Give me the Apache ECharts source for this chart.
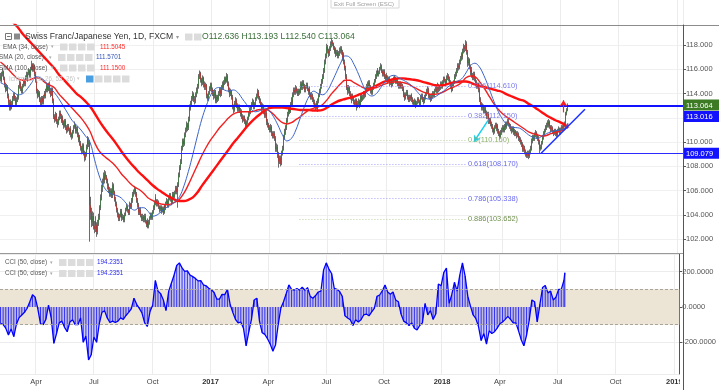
<!DOCTYPE html>
<html><head><meta charset="utf-8">
<script src="https://cdn.jsdelivr.net/npm/echarts@6/dist/echarts.min.js"></script>
<style>html,body{margin:0;padding:0;background:#fff}#c{width:719px;height:390px}</style>
</head><body><div id="c"></div><script>
// ---------- categories ----------
const firstDate = '2016-02-05';     // first trading day on the axis
const categoryCount = 763;          // weekdays shown on the time axis (incl. empty future)
const monthNames = ['Jan','Feb','Mar','Apr','May','Jun','Jul','Aug','Sep','Oct','Nov','Dec'];

// ---------- daily price data (CHF/JPY, FXCM, 1D) ----------
const firstOpen = 115.20;
const closes = [
115.40,115.10,115.62,115.80,115.25,114.70,114.35,114.55,113.80,113.25,
112.90,113.30,112.85,113.15,113.55,113.90,113.60,113.20,113.45,113.70,
114.10,114.55,114.85,114.40,114.20,114.65,115.05,114.80,115.30,115.55,
115.20,115.65,115.90,115.50,116.05,116.40,115.95,116.30,115.60,115.15,
114.70,114.20,113.85,114.10,113.50,113.20,113.65,113.30,113.75,114.00,
113.80,114.25,114.60,114.30,114.75,114.20,113.90,114.35,113.40,112.60,
112.10,111.85,112.30,111.70,111.50,111.95,112.40,112.15,111.80,112.05,
111.60,111.35,111.75,111.20,110.95,111.30,111.05,110.80,111.10,110.65,
110.45,110.85,111.25,111.40,110.90,111.10,110.60,110.20,110.45,109.90,
109.55,109.30,109.75,109.10,108.70,108.95,109.60,110.20,109.85,110.05,
104.80,104.20,103.40,103.90,103.10,102.85,103.50,103.20,102.60,103.30,
103.80,104.60,105.40,106.20,106.70,107.20,106.90,107.40,107.15,106.85,
106.40,106.10,105.70,106.00,105.60,106.25,106.45,105.90,105.30,104.90,
104.40,104.05,103.70,103.95,104.30,104.10,103.75,103.85,103.60,104.00,
104.45,104.70,104.40,104.15,104.55,104.90,104.65,105.20,105.70,105.90,
106.10,105.75,105.20,104.85,104.50,104.20,104.40,103.95,103.70,103.85,
103.60,103.90,103.45,103.20,103.50,103.05,103.40,103.75,104.00,103.80,
104.25,104.60,104.95,105.45,105.20,104.90,105.10,104.70,104.45,104.65,
104.30,104.55,104.20,104.75,104.60,104.95,105.15,104.80,105.35,105.60,
105.30,105.05,105.40,105.70,105.50,105.85,106.20,105.90,106.50,107.30,
107.90,108.40,108.95,109.50,110.10,109.85,110.60,111.00,111.45,111.20,
111.90,112.50,112.85,113.20,113.60,113.95,113.50,113.40,113.90,114.25,
114.60,114.95,115.40,115.70,115.15,114.90,115.30,114.80,114.55,114.70,
114.25,113.85,113.60,114.05,114.40,114.75,114.35,114.00,113.80,114.15,
113.65,113.40,113.75,113.55,114.00,114.30,113.95,114.50,114.80,114.60,
114.90,115.25,115.00,115.45,114.85,114.30,113.95,114.20,113.70,113.40,
112.90,112.65,113.20,113.45,113.00,112.70,112.95,112.60,112.35,112.55,
112.10,111.85,112.05,111.70,111.40,111.65,111.95,112.30,112.60,112.45,
112.85,113.10,113.35,112.90,113.15,113.55,113.80,114.15,113.90,113.70,
113.40,113.10,112.75,112.95,112.50,112.20,112.40,111.90,111.70,111.45,
111.20,111.00,111.25,110.75,110.50,110.70,110.30,109.90,109.45,109.60,
109.00,108.40,108.70,108.20,109.10,109.45,109.90,110.40,110.85,111.20,
111.80,112.25,112.70,112.50,113.10,113.45,113.30,113.90,114.30,114.10,
114.45,114.20,113.95,114.25,114.10,114.55,114.80,114.50,114.90,114.65,
114.30,114.55,114.70,114.40,114.15,114.35,113.95,113.70,113.85,113.50,
113.30,113.05,112.85,113.20,112.75,113.40,113.85,114.20,114.60,115.00,
115.40,115.85,116.60,117.10,117.40,117.85,117.55,117.30,117.70,118.05,
118.25,118.10,117.80,117.50,117.65,117.25,117.40,117.10,117.30,117.55,
117.70,117.45,116.90,117.20,116.60,116.10,115.40,114.50,114.20,114.45,
114.00,113.70,113.45,113.85,113.60,113.30,113.10,113.45,112.95,113.15,
113.35,113.05,113.55,113.80,113.50,113.70,114.05,113.85,114.30,114.55,
114.85,114.60,114.90,114.55,114.25,114.10,114.45,114.70,115.05,115.35,
115.70,115.90,115.55,115.75,116.05,116.25,115.85,115.60,115.80,115.40,
115.25,115.50,115.30,115.05,115.20,114.85,115.00,114.75,114.95,115.15,
115.35,115.20,114.95,115.10,114.80,114.60,114.85,114.55,114.70,114.40,
114.20,113.90,113.65,113.95,114.10,113.70,113.50,113.75,113.60,113.85,
113.55,113.30,113.15,113.40,113.05,113.25,113.55,113.35,113.10,113.30,
113.65,113.80,113.50,113.35,113.70,113.95,114.15,114.35,114.05,113.85,
113.70,113.55,113.80,114.05,113.90,114.25,114.40,114.20,114.55,114.70,
114.35,114.50,114.80,114.60,114.95,115.25,115.05,114.75,114.90,115.30,
115.45,115.20,114.95,114.60,114.35,114.70,114.95,115.15,115.40,115.60,
115.90,116.30,116.15,116.60,116.90,117.25,117.05,117.50,117.85,117.70,
118.10,117.40,116.50,116.80,116.20,115.75,115.95,115.50,115.30,115.60,
115.20,114.90,114.60,114.75,114.30,113.80,113.50,113.10,112.85,112.95,
112.60,112.75,112.40,112.15,112.30,111.95,111.70,111.85,111.50,111.30,
111.05,110.85,111.25,111.45,111.15,111.35,110.95,110.70,110.45,110.80,
111.00,111.20,110.95,111.30,111.45,111.25,111.55,111.70,111.50,111.35,
111.10,110.95,111.15,110.85,110.70,110.90,110.75,110.55,110.65,110.35,
110.20,110.00,109.85,109.60,109.40,109.55,109.25,109.05,108.90,109.10,
108.85,109.15,109.45,109.80,110.10,110.45,110.30,110.65,110.80,110.55,
110.35,110.05,109.70,109.45,109.60,109.95,110.40,110.70,110.95,111.20,
111.35,111.60,111.45,111.70,111.30,111.05,111.20,110.90,110.75,110.95,
110.70,110.85,110.60,110.95,111.10,110.80,111.05,111.25,111.15,111.40,
111.55,111.90,112.35,112.636,113.064];
const highs = [
115.7,115.6,115.8,116.1,115.9,115.4,114.9,114.8,114.7,114.0,
113.5,113.5,113.5,113.4,113.8,114.1,114.1,113.8,113.7,113.9,
114.3,114.7,115.1,115.0,114.6,114.8,115.3,115.2,115.5,115.8,
115.7,115.8,116.1,116.0,116.2,116.7,116.5,116.5,116.4,115.8,
115.3,114.9,114.4,114.3,114.2,113.7,113.8,113.8,113.9,114.2,
114.2,114.4,114.8,114.8,114.9,115.0,114.4,114.5,114.5,113.6,
112.8,112.3,112.5,112.4,111.9,112.1,112.6,112.6,112.3,112.3,
112.2,111.8,111.9,111.9,111.4,111.5,111.5,111.2,111.3,111.3,
110.8,111.0,111.4,111.7,111.5,111.3,111.3,110.8,110.7,110.6,
110.1,109.7,109.9,109.9,109.3,109.2,109.8,110.5,110.4,110.4,
110.2,105.5,104.6,104.3,104.2,103.5,103.8,103.9,103.4,103.6,
104.1,104.8,105.7,106.5,107.0,107.5,107.4,107.7,107.6,107.3,
107.0,106.6,106.3,106.2,106.2,106.4,106.7,106.6,106.0,105.5,
105.1,104.6,104.2,104.1,104.5,104.5,104.2,104.1,104.0,104.2,
104.6,104.9,104.8,104.5,104.7,105.1,105.0,105.4,105.9,106.1,
106.4,106.3,105.9,105.4,105.0,104.7,104.6,104.6,104.1,104.1,
104.0,104.1,104.1,103.6,103.7,103.7,103.6,103.9,104.2,104.2,
104.4,104.8,105.2,105.7,105.7,105.3,105.3,105.2,104.8,104.8,
104.8,104.7,104.7,104.9,104.9,105.1,105.4,105.3,105.5,105.8,
105.8,105.5,105.6,105.9,105.9,106.0,106.4,106.4,106.7,107.5,
108.1,108.6,109.2,109.7,110.3,110.3,110.8,111.2,111.7,111.6,
112.1,112.7,113.1,113.4,113.8,114.2,114.1,113.8,114.1,114.5,
114.8,115.2,115.6,115.9,115.8,115.3,115.5,115.4,115.0,114.9,
114.8,114.4,114.0,114.2,114.6,114.9,114.9,114.5,114.2,114.3,
114.3,113.8,113.9,113.9,114.2,114.5,114.5,114.7,115.0,115.0,
115.1,115.4,115.4,115.7,115.6,115.0,114.5,114.4,114.3,113.9,
113.6,113.1,113.4,113.7,113.6,113.2,113.1,113.1,112.8,112.8,
112.7,112.3,112.2,112.2,111.9,111.8,112.1,112.5,112.8,112.8,
113.0,113.3,113.6,113.5,113.3,113.7,114.0,114.4,114.3,114.1,
113.8,113.6,113.3,113.2,113.1,112.6,112.6,112.6,112.1,111.9,
111.6,111.4,111.5,111.4,110.9,110.9,110.9,110.5,110.0,109.9,
109.8,109.2,108.9,108.9,109.3,109.7,110.1,110.6,111.1,111.4,
112.0,112.5,112.9,112.9,113.3,113.7,113.7,114.1,114.5,114.5,
114.7,114.6,114.4,114.4,114.4,114.8,115.0,115.0,115.1,115.1,
114.8,114.7,114.9,114.9,114.5,114.6,114.5,114.1,114.1,114.0,
113.7,113.5,113.2,113.4,113.3,113.6,114.0,114.4,114.8,115.2,
115.6,116.1,116.8,117.3,117.6,118.1,118.0,117.7,117.9,118.3,
118.5,118.4,118.2,117.9,117.9,117.8,117.6,117.6,117.5,117.8,
117.9,117.9,117.6,117.4,117.3,116.8,116.3,115.6,114.7,114.7,
114.6,114.2,113.9,114.0,114.0,113.8,113.5,113.6,113.6,113.4,
113.6,113.5,113.7,114.0,114.0,113.9,114.2,114.2,114.5,114.8,
115.0,115.0,115.1,115.1,114.7,114.4,114.6,114.9,115.2,115.6,
115.9,116.1,116.1,115.9,116.2,116.5,116.4,116.0,116.0,116.0,
115.6,115.7,115.7,115.5,115.4,115.4,115.2,115.2,115.1,115.4,
115.5,115.5,115.4,115.3,115.3,115.0,115.0,115.0,114.9,114.8,
114.6,114.4,114.1,114.1,114.3,114.3,113.9,113.9,113.9,114.0,
114.0,113.7,113.5,113.6,113.5,113.4,113.7,113.7,113.5,113.5,
113.9,114.0,114.0,113.7,113.9,114.1,114.4,114.6,114.5,114.2,
114.0,113.9,114.0,114.2,114.2,114.4,114.6,114.6,114.7,114.9,
114.8,114.7,115.0,115.0,115.1,115.4,115.4,115.2,115.1,115.5,
115.7,115.6,115.4,115.1,114.8,114.9,115.1,115.3,115.6,115.8,
116.1,116.5,116.5,116.8,117.1,117.4,117.4,117.7,118.1,118.0,
118.4,118.3,117.6,117.0,116.9,116.4,116.2,116.1,115.7,115.8,
115.8,115.4,115.1,114.9,114.9,114.5,114.0,113.7,113.3,113.2,
113.1,113.0,112.9,112.6,112.5,112.5,112.1,112.0,112.0,111.7,
111.5,111.2,111.4,111.6,111.6,111.5,111.5,111.1,110.9,111.0,
111.2,111.4,111.4,111.5,111.7,111.6,111.7,111.9,111.9,111.6,
111.5,111.3,111.3,111.3,111.0,111.1,111.0,110.9,110.9,110.8,
110.5,110.4,110.2,110.0,109.8,109.8,109.7,109.4,109.2,109.3,
109.3,109.4,109.7,110.0,110.3,110.6,110.6,110.8,111.0,110.9,
110.7,110.5,110.2,109.9,109.8,110.1,110.6,110.9,111.1,111.4,
111.6,111.8,111.8,111.9,111.8,111.4,111.4,111.3,111.0,111.1,
111.1,111.0,111.0,111.1,111.3,111.2,111.2,111.4,111.4,111.6,
111.7,112.1,112.5,112.8,113.193];
const lows = [
115.0,114.9,115.0,115.4,115.1,114.5,114.1,114.2,113.6,113.0,
112.6,112.7,112.6,112.7,113.0,113.4,113.4,113.0,113.0,113.3,
113.5,113.9,114.4,114.2,114.0,114.0,114.5,114.6,114.6,115.1,
115.0,115.0,115.5,115.3,115.3,115.9,115.8,115.8,115.4,114.9,
114.5,114.0,113.6,113.7,113.3,112.9,113.0,113.1,113.1,113.6,
113.6,113.6,114.1,114.1,114.2,114.0,113.7,113.8,113.2,112.4,
111.9,111.6,111.7,111.5,111.2,111.4,111.8,111.9,111.6,111.6,
111.4,111.1,111.2,111.0,110.7,110.8,110.9,110.6,110.6,110.4,
110.2,110.3,110.7,111.1,110.7,110.7,110.4,110.0,110.0,109.7,
109.3,109.0,109.1,108.9,108.4,108.5,108.8,109.4,109.6,109.6,
101.8,103.6,103.0,103.1,102.8,102.5,102.6,102.8,102.2,102.4,
103.1,103.6,104.4,105.2,105.9,106.5,106.6,106.8,106.9,106.6,
106.1,105.8,105.5,105.5,105.4,105.4,106.0,105.7,105.1,104.7,
104.2,103.8,103.5,103.5,103.8,103.9,103.5,103.6,103.4,103.4,
103.9,104.3,104.2,104.0,104.0,104.4,104.5,104.5,105.0,105.5,
105.7,105.5,105.0,104.6,104.3,104.0,104.0,103.8,103.5,103.5,
103.4,103.4,103.3,103.0,103.0,102.9,102.9,103.2,103.6,103.6,
103.6,104.1,104.4,104.8,105.0,104.7,104.7,104.5,104.2,104.3,
104.1,104.2,104.0,104.1,104.4,104.4,104.8,104.6,104.6,105.2,
105.1,104.8,104.9,105.3,105.3,105.4,105.7,105.7,104.6,106.3,
107.1,107.7,108.2,108.8,109.3,109.6,109.7,110.4,110.8,110.9,
111.0,111.7,112.3,112.6,113.0,113.4,113.3,113.1,113.2,113.7,
114.0,114.4,114.8,115.2,114.9,114.6,114.7,114.5,114.3,114.3,
114.0,113.6,113.4,113.4,113.9,114.2,114.1,113.8,113.5,113.6,
113.4,113.2,113.2,113.3,113.4,113.8,113.7,113.8,114.3,114.4,
114.4,114.7,114.8,114.9,114.6,114.1,113.7,113.8,113.5,113.2,
112.7,112.4,112.5,113.0,112.8,112.5,112.5,112.4,112.1,112.2,
111.9,111.6,111.7,111.5,111.1,111.2,111.5,111.8,112.1,112.2,
112.3,112.7,112.9,112.7,112.7,113.0,113.4,113.6,113.7,113.5,
113.2,112.9,112.5,112.6,112.3,112.0,112.0,111.7,111.4,111.2,
111.0,110.8,110.8,110.5,110.3,110.3,110.1,109.7,109.2,109.2,
108.7,107.9,108.2,108.0,108.1,108.9,109.3,109.7,110.2,110.6,
111.0,111.6,112.1,112.3,112.4,112.9,113.0,113.2,113.7,113.9,
113.9,114.0,113.8,113.8,113.9,114.0,114.4,114.3,114.3,114.4,
114.1,114.1,114.4,114.2,113.9,114.0,113.7,113.5,113.5,113.3,
113.1,112.8,112.6,112.7,112.5,112.6,113.2,113.7,114.0,114.4,
114.8,115.2,115.7,116.4,116.9,117.2,117.3,117.0,117.1,117.5,
117.8,117.9,117.6,117.3,117.3,117.0,117.1,116.9,116.9,117.1,
117.3,117.2,116.7,116.7,116.4,115.9,115.2,114.3,113.9,114.0,
113.8,113.5,113.2,113.3,113.4,113.1,112.9,112.9,112.6,112.8,
112.9,112.8,112.9,113.4,113.3,113.4,113.5,113.6,113.7,114.1,
114.4,114.4,114.4,114.4,114.0,113.9,113.9,114.3,114.5,114.9,
115.2,115.5,115.4,115.4,115.6,115.9,115.7,115.4,115.4,115.2,
115.0,115.1,115.1,114.8,114.9,114.6,114.7,114.5,114.6,114.8,
115.0,115.0,114.8,114.8,114.6,114.4,114.4,114.4,114.4,114.2,
114.0,113.7,113.4,113.5,113.8,113.5,113.3,113.3,113.4,113.4,
113.3,113.1,112.9,113.0,112.8,112.9,113.1,113.2,112.9,112.9,
113.1,113.5,113.3,113.1,113.2,113.5,113.8,114.0,113.9,113.6,
113.5,113.3,113.4,113.6,113.7,113.7,114.1,114.0,114.0,114.4,
114.1,114.2,114.3,114.4,114.4,114.8,114.9,114.6,114.6,114.8,
115.1,115.0,114.8,114.4,114.1,114.2,114.5,114.8,115.0,115.2,
115.4,115.7,115.9,116.0,116.4,116.7,116.8,116.9,117.3,117.4,
117.5,117.2,116.2,116.3,116.0,115.5,115.5,115.3,115.1,115.1,
115.0,114.7,114.4,114.4,114.1,113.6,113.3,112.9,112.6,112.6,
112.4,112.4,112.2,111.9,111.9,111.7,111.5,111.5,111.3,111.1,
110.8,110.6,110.7,111.1,110.9,111.0,110.7,110.5,110.2,110.3,
110.6,110.8,110.8,110.8,111.1,111.0,111.1,111.4,111.3,111.1,
110.9,110.7,110.8,110.6,110.5,110.5,110.5,110.3,110.4,110.1,
110.0,109.8,109.6,109.4,109.2,109.2,109.0,108.8,108.7,108.7,
108.6,108.7,109.0,109.3,109.6,109.9,110.1,110.1,110.4,110.3,
110.1,109.8,109.5,109.1,109.3,109.4,109.8,110.2,110.5,110.8,
111.0,111.2,111.2,111.3,111.1,110.8,110.9,110.7,110.5,110.6,
110.5,110.5,110.4,110.5,110.8,110.6,110.6,110.9,110.9,111.0,
111.2,111.4,111.8,112.2,112.540];

// ---------- moving averages ----------
const maStep = 5;
const sma100 = [
121.0,120.6,120.2,119.8,119.4,118.9,118.5,118.1,117.7,117.3,
116.9,116.5,116.1,115.6,115.2,114.8,114.4,114.0,113.7,113.35,
112.95,112.4,111.8,111.25,110.75,110.3,109.8,109.25,108.75,108.3,
107.9,107.5,107.15,106.8,106.45,106.15,105.9,105.65,105.45,105.25,
105.15,105.15,105.25,105.45,105.85,106.4,106.9,107.4,107.9,108.4,
108.9,109.4,109.9,110.35,110.8,111.25,111.65,112.0,112.3,112.6,
112.8,112.85,112.85,112.85,112.8,112.75,112.7,112.65,112.65,112.65,
112.6,112.6,112.65,112.85,113.1,113.3,113.45,113.55,113.65,113.75,
113.9,114.05,114.25,114.45,114.65,114.85,115.0,115.1,115.2,115.25,
115.25,115.2,115.15,115.1,115.0,114.9,114.8,114.7,114.65,114.7,
114.8,114.9,114.95,115.0,115.0,114.9,114.75,114.65,114.55,114.45,
114.35,114.25,114.15,113.95,113.8,113.65,113.5,113.4,113.15,112.95,
112.7,112.45,112.2,112.0,111.8,111.65,111.45,111.15];
const ema34 = [
116.6,116.3,115.9,115.5,115.2,115.1,115.1,115.2,115.3,115.2,
114.9,114.7,114.5,114.0,113.6,113.2,112.8,112.4,112.0,111.5,
110.9,110.0,109.3,108.9,108.6,108.3,107.9,107.4,107.0,106.6,
106.3,106.1,105.8,105.4,105.2,105.0,104.9,104.85,104.9,105.05,
105.3,105.8,106.5,107.3,108.1,108.9,109.6,110.2,110.7,111.2,
111.6,112.0,112.3,112.45,112.5,112.5,112.5,112.6,112.7,112.7,
112.6,112.3,111.9,111.6,111.5,111.6,111.85,112.1,112.4,112.65,
112.8,112.9,113.1,113.5,114.0,114.4,114.8,115.1,115.1,114.9,
114.7,114.5,114.4,114.4,114.5,114.65,114.8,114.9,114.95,114.95,
114.9,114.8,114.6,114.4,114.2,114.05,113.95,113.95,114.0,114.15,
114.35,114.5,114.65,114.9,115.3,115.45,115.4,115.0,114.5,113.9,
113.3,112.8,112.4,112.1,111.85,111.6,111.35,111.1,110.85,110.7,
110.6,110.5,110.55,110.7,110.8,110.9,111.05,111.5045];
const sma20 = [
114.9,114.7,114.4,114.1,113.9,114.0,114.4,114.9,115.4,115.3,
115.0,114.5,114.1,113.6,113.0,112.4,111.8,111.4,111.0,110.5,
110.0,108.6,107.3,106.4,105.9,105.7,105.6,105.4,105.0,104.6,
104.4,104.6,104.6,104.3,103.9,104.0,104.3,104.6,104.8,105.1,
105.5,106.4,107.6,109.0,110.5,111.9,113.0,113.9,114.4,114.5,
114.3,114.2,114.3,114.1,113.6,113.1,112.7,112.5,112.6,112.8,
112.6,112.1,111.4,110.6,110.1,110.3,111.0,112.0,113.0,113.8,
114.2,114.0,113.9,114.2,114.9,115.7,116.5,117.1,117.0,116.4,
115.6,114.7,114.0,113.8,114.0,114.5,115.0,115.4,115.5,115.3,
115.1,114.9,114.6,114.2,113.8,113.6,113.55,113.7,113.95,114.2,
114.55,114.8,115.0,115.2,115.7,116.3,116.5,116.2,115.5,114.6,
113.6,112.7,112.0,111.5,111.25,111.2,111.15,110.9,110.6,110.4,
110.3,110.5,110.7,110.85,110.95,111.0,111.1,111.5701];

// ---------- CCI (50, close) ----------
const cciStep = 3;
const cci = [
-92,-100,-120,-159,-125,-168,-96,-60,-45,-30,
-7,30,70,55,-10,-96,-100,-70,10,-60,
-206,-150,-90,-80,-115,-140,-85,-72,-100,-100,
-62,-200,-165,-300,-270,-170,-200,-95,-30,-22,
-62,-88,-80,-88,-80,-62,-70,-48,-30,-10,
50,15,-8,-34,-90,-110,-26,10,150,90,
75,40,-20,90,135,180,235,250,222,202,
205,181,172,162,148,150,125,120,106,98,
82,45,45,72,70,100,15,-30,-70,-90,
-85,-120,-220,-140,-70,40,50,-80,-145,-155,
-180,-210,-250,-215,-100,-6,30,75,125,100,
95,105,95,112,95,110,60,50,65,85,
90,210,250,215,190,105,100,88,60,-50,
-62,-72,-105,-72,-85,-72,-45,-40,-50,-28,
-8,60,68,92,125,85,72,85,40,30,
-40,-80,-90,-105,-90,-120,-130,-105,-90,20,
-45,-20,-70,-40,130,120,195,220,20,70,
140,90,180,250,175,60,5,-45,-65,-110,
-190,-150,-210,-135,-150,-140,-120,-95,-85,-70,
-53,-70,-90,-90,-135,-185,-220,-160,-75,40,
30,-85,15,110,122,80,90,40,55,100,
100,150,194.2351];

// ---------- drawings ----------
const fibRatios = [0.236, 0.382, 0.5, 0.618, 0.786, 0.886];
const fibPrices = [114.610, 112.150, 110.160, 108.170, 105.338, 103.652];
const fibFrom = '2017-05-18', fibTo = '2018-02-02';
const hLevels = [113.016, 109.079];
const lastPrice = 113.064;
const ohlcText = ['O112.636', 'H113.193', 'L112.540', 'C113.064'];
const trendFrom = ['2018-05-31', 109.08], trendTo = ['2018-08-08', 112.71];
const cyanFrom = ['2018-03-09', 111.82], cyanTo = ['2018-02-15', 110.04];
const redFrom = ['2018-07-05', 112.45], redTo = ['2018-07-05', 113.45];

// ---------- build ----------
function ymd(d){return d.getUTCFullYear()+'-'+String(d.getUTCMonth()+1).padStart(2,'0')+'-'+String(d.getUTCDate()).padStart(2,'0');}
const dates = [];
{ const d = new Date(firstDate + 'T00:00:00Z');
  while (dates.length < categoryCount) { const w = d.getUTCDay(); if (w !== 0 && w !== 6) dates.push(ymd(d)); d.setUTCDate(d.getUTCDate() + 1); } }
const qStart = dates.map((s, i) => { if (i === 0) return false; const m = +s.slice(5,7), pm = +dates[i-1].slice(5,7); return m !== pm && (m - 1) % 3 === 0; });
const lastIdx = closes.length - 1;
const opens = closes.map((c, i) => i === 0 ? firstOpen : closes[i-1]);
const wickData = closes.map((c, i) => [opens[i], c, lows[i], highs[i]]);
const bodyData = closes.map((c, i) => [opens[i], c, Math.min(opens[i], c), Math.max(opens[i], c)]);
const sampled = (arr, step) => arr.map((v, k) => [dates[Math.min(k * step, lastIdx)], v]);

const FONT = 'Liberation Sans, Arial, sans-serif';
const fibColors = ['#7b7bee', '#7b7bee', '#8fb36d', '#6a6aee', '#6a6aee', '#6e8f4c'];
const fibLineColors = ['#a0a0ff', '#a0a0ff', '#b9d2a2', '#a0a0ff', '#a0a0ff', '#b9cf9e'];

const qInterval = (i) => qStart[i];
function xAxisCommon(gi, showLabels) {
  return {
    type: 'category', gridIndex: gi, data: dates, boundaryGap: true,
    axisLine: { show: gi !== 2, lineStyle: { color: gi === 1 ? '#555' : '#999' } },
    axisTick: { show: showLabels, interval: qInterval, length: 3, lineStyle: { color: '#555' } },
    axisLabel: showLabels ? {
      show: true, interval: qInterval, fontSize: 7.5, color: '#444', margin: 4, fontFamily: FONT,
      formatter: (v) => { const m = +v.slice(5,7); return m === 1 ? '{y|' + v.slice(0,4) + '}' : monthNames[m-1]; },
      rich: { y: { fontWeight: 'bold', fontSize: 7.5, color: '#333', fontFamily: FONT } }
    } : { show: false },
    splitLine: { show: true, interval: qInterval, lineStyle: { color: '#ececec', width: 1 } }
  };
}
const tag = (color) => ({ a: { backgroundColor: color, color: '#fff', padding: [2, 3, 1, 3], fontSize: 7.5, fontFamily: FONT, width: 30 } });

const series = [
  { // fib retracement (drawn under price)
    type: 'line', xAxisIndex: 0, yAxisIndex: 0, data: [], z: 1, silent: true,
    markLine: {
      silent: true, symbol: ['none', 'none'], animation: false,
      label: { show: true, position: 'end', distance: 2, fontSize: 7.4, fontFamily: FONT, padding: [7, 0, 0, 0] },
      data: fibPrices.map((p, i) => [
        { coord: [fibFrom, p], lineStyle: { color: fibLineColors[i], type: [1, 2], width: 1 },
          label: { color: fibColors[i], formatter: fibRatios[i] + '(' + p.toFixed(3) + ')' } },
        { coord: [fibTo, p] }
      ])
    }
  },
  { // wicks
    type: 'candlestick', xAxisIndex: 0, yAxisIndex: 0, data: wickData, z: 2, large: false,
    barWidth: 0.6, silent: true,
    itemStyle: { color: '#6d6d6d', color0: '#6d6d6d', borderColor: '#6d6d6d', borderColor0: '#6d6d6d', borderWidth: 1 }
  },
  { // bodies
    type: 'candlestick', xAxisIndex: 0, yAxisIndex: 0, data: bodyData, z: 3, large: false,
    barWidth: 0.9, silent: true,
    itemStyle: { color: '#2f7d32', color0: '#cc1f1f', borderColor: '#2f7d32', borderColor0: '#cc1f1f', borderWidth: 0.6 }
  },
  { name: 'SMA100', type: 'line', xAxisIndex: 0, yAxisIndex: 0, data: sampled(sma100, maStep), z: 4,
    showSymbol: false, smooth: 0.4, lineStyle: { color: '#ff1010', width: 2.4 }, silent: true },
  { name: 'EMA34', type: 'line', xAxisIndex: 0, yAxisIndex: 0, data: sampled(ema34, maStep), z: 4,
    showSymbol: false, smooth: 0.4, lineStyle: { color: '#f02020', width: 1.4 }, silent: true },
  { name: 'SMA20', type: 'line', xAxisIndex: 0, yAxisIndex: 0, data: sampled(sma20, maStep), z: 4,
    showSymbol: false, smooth: 0.4, lineStyle: { color: '#3b64c8', width: 1 }, silent: true },
  { // horizontal levels + price tags
    type: 'line', xAxisIndex: 0, yAxisIndex: 0, data: [], z: 6, silent: true,
    markLine: {
      silent: true, symbol: ['none', 'none'], animation: false,
      label: { show: true, position: 'end', distance: 0, fontSize: 7.5, fontFamily: FONT, color: '#fff' },
      data: [
        { yAxis: hLevels[0], lineStyle: { color: '#1212ff', width: 2, type: 'solid' },
          label: { padding: [22, 0, 0, 0], formatter: '{a|' + hLevels[0].toFixed(3) + '}', rich: tag('#1212ff') } },
        { yAxis: hLevels[1], lineStyle: { color: '#2a2aff', width: 1.2, type: 'solid' },
          label: { formatter: '{a|' + hLevels[1].toFixed(3) + '}', rich: tag('#1212ff') } },
        [ { coord: trendFrom, lineStyle: { color: '#1c32ff', width: 1.5, type: 'solid' }, label: { show: false } }, { coord: trendTo } ]
      ]
    }
  },
  { // last price tag
    type: 'line', xAxisIndex: 0, yAxisIndex: 0, data: [], z: 8, silent: true,
    markLine: {
      silent: true, symbol: ['none', 'none'], animation: false,
      lineStyle: { color: 'rgba(0,0,0,0)', width: 0.1 },
      label: { show: true, position: 'end', distance: 0, formatter: '{a|' + lastPrice.toFixed(3) + '}', rich: tag('#3c7a24') },
      data: [ { yAxis: lastPrice } ]
    }
  },
  { // arrows
    type: 'line', xAxisIndex: 0, yAxisIndex: 0, data: [], z: 7, silent: true,
    markLine: {
      silent: true, symbol: ['none', 'arrow'], symbolSize: 6, animation: false, label: { show: false },
      data: [
        [ { coord: cyanFrom, lineStyle: { color: '#16d0f0', width: 1.5, type: 'solid' } }, { coord: cyanTo } ],
        [ { coord: redFrom, lineStyle: { color: '#ff2020', width: 1.2, type: 'solid', curveness: 0.3 } }, { coord: redTo } ]
      ]
    }
  },
  { // CCI band
    type: 'line', xAxisIndex: 1, yAxisIndex: 1, data: [], z: 1, silent: true,
    markArea: { silent: true, itemStyle: { color: '#ece4d5' }, data: [[ { yAxis: 100 }, { yAxis: -100 } ]] },
    markLine: { silent: true, symbol: ['none', 'none'], label: { show: false }, animation: false,
      lineStyle: { color: '#aaa59a', type: [3, 2], width: 1 }, data: [ { yAxis: 100 }, { yAxis: -100 } ] }
  },
  { // CCI hatching
    type: 'bar', xAxisIndex: 1, yAxisIndex: 1, data: sampled(cci, cciStep), z: 2, silent: true,
    barWidth: 0.8, itemStyle: { color: '#2a2ae6' }
  },
  { // CCI line + fill
    type: 'line', xAxisIndex: 1, yAxisIndex: 1, data: sampled(cci, cciStep), z: 3, silent: true,
    showSymbol: false, lineStyle: { color: '#0000ff', width: 1.3 },
    areaStyle: { origin: 0, color: 'rgba(80,80,255,0.40)' }
  },
  { type: 'line', xAxisIndex: 2, yAxisIndex: 2, data: [], silent: true }
];

// ---------- legend / chrome ----------
const G = [];
function txt(x, y, s, fill, size, extra) { G.push(Object.assign({ type: 'text', x: x, y: y, silent: true, z: 100,
  style: { text: s, fill: fill, font: size + 'px ' + FONT, verticalAlign: 'middle' } }, extra || {})); }
function box(x, y, w, h, fill) { G.push({ type: 'rect', silent: true, z: 100, shape: { x: x, y: y, width: w, height: h }, style: { fill: fill } }); }
function icons(x0, y, n, first) { for (let i = 0; i < n; i++) box(x0 + i * 9, y - 3.5, 7.5, 7, i === 0 && first ? first : '#dcdcdc'); }

G.push({ type: 'line', silent: true, z: 100, shape: { x1: 0, y1: 25.5, x2: 719, y2: 25.5 }, style: { stroke: '#8c8c8c', lineWidth: 1 } });
G.push({ type: 'rect', silent: true, z: 100, shape: { x: 680, y: 376, width: 39, height: 14 }, style: { fill: '#fff' } });
G.push({ type: 'line', silent: true, z: 101, shape: { x1: 683.5, y1: 25, x2: 683.5, y2: 390 }, style: { stroke: '#555', lineWidth: 1 } });
G.push({ type: 'rect', silent: true, z: 100, shape: { x: 331, y: -1, width: 68, height: 9 }, style: { fill: '#fff', stroke: '#d8d8d8', lineWidth: 1 } });
txt(334, 4, 'Exit Full Screen (ESC)', '#a0a0a0', 6);

G.push({ type: 'rect', silent: true, z: 100, shape: { x: 5.5, y: 33.5, width: 6, height: 6 }, style: { fill: '#fff', stroke: '#777', lineWidth: 1 } });
G.push({ type: 'line', silent: true, z: 101, shape: { x1: 7, y1: 36.5, x2: 10.5, y2: 36.5 }, style: { stroke: '#777', lineWidth: 1 } });
box(14, 33.5, 6, 6, '#8a8a8a');
txt(25, 37, 'Swiss Franc/Japanese Yen, 1D, FXCM', '#333', 8.6);
txt(176, 37, '\u25BE', '#999', 6);
icons(185, 37, 2);
txt(202, 37, ohlcText.join(' '), '#3a6f3a', 8.6);

txt(3, 47, 'EMA (34, close)', '#555', 6.3); txt(51, 47, '\u25BE', '#aaa', 5); icons(60, 47, 4); txt(100, 47, ema34[ema34.length - 1].toFixed(4), '#ff2a2a', 6.3);
txt(-1, 57.5, 'SMA (20, close)', '#555', 6.3); txt(49, 57.5, '\u25BE', '#aaa', 5); icons(58, 57.5, 4); txt(96, 57.5, sma20[sma20.length - 1].toFixed(4), '#3355bb', 6.3);
txt(-1, 68, 'SMA (100, close)', '#555', 6.3); txt(51, 68, '\u25BE', '#aaa', 5); icons(60, 68, 4); txt(100, 68, sma100[sma100.length - 1].toFixed(4), '#ff2a2a', 6.3);
txt(9, 79, 'Ichimoku (9, 26, 52, 26)', '#c4c4c4', 6.3); txt(77, 79, '\u25BE', '#ccc', 5); icons(86, 79, 5, '#4a9fe0');

txt(5, 262.5, 'CCI (50, close)', '#555', 6.3); txt(50, 262.5, '\u25BE', '#aaa', 5); icons(59, 262.5, 4); txt(97, 262.5, cci[cci.length - 1].toFixed(4), '#2a2af0', 6.3);
txt(5, 273.5, 'CCI (50, close)', '#555', 6.3); txt(50, 273.5, '\u25BE', '#aaa', 5); icons(59, 273.5, 4); txt(97, 273.5, cci[cci.length - 1].toFixed(4), '#2a2af0', 6.3);

const option = {
  animation: false, backgroundColor: '#fff',
  grid: [
    { left: 0, right: 36, top: 25, height: 228 },
    { left: 0, right: 36, top: 254, height: 120 },
    { left: 0, right: 36, top: 0, height: 25 }
  ],
  xAxis: [ xAxisCommon(0, false), xAxisCommon(1, true), xAxisCommon(2, false) ],
  yAxis: [
    { type: 'value', gridIndex: 0, position: 'right', min: 100.87, max: 119.647, splitNumber: 9,
      axisLine: { show: true, lineStyle: { color: '#555' } }, axisTick: { show: true, length: 3, lineStyle: { color: '#555' } },
      axisLabel: { fontSize: 7.5, color: '#555', margin: 3, fontFamily: FONT, formatter: (v) => v.toFixed(3), showMinLabel: false, showMaxLabel: false },
      splitLine: { lineStyle: { color: '#f0f0f0' } } },
    { type: 'value', gridIndex: 1, position: 'right', min: -379.6, max: 300.3, splitNumber: 3,
      axisLine: { show: true, lineStyle: { color: '#555' } }, axisTick: { show: true, length: 3, lineStyle: { color: '#555' } },
      axisLabel: { fontSize: 7.5, color: '#555', margin: 3, fontFamily: FONT, formatter: (v) => v.toFixed(4), showMinLabel: false, showMaxLabel: false },
      splitLine: { lineStyle: { color: '#ececec' } } },
    { type: 'value', gridIndex: 2, show: false, min: 0, max: 1, splitLine: { show: false } }
  ],
  series: series,
  graphic: G
};
const chart = echarts.init(document.getElementById('c'));
chart.setOption(option);
</script></body></html>
